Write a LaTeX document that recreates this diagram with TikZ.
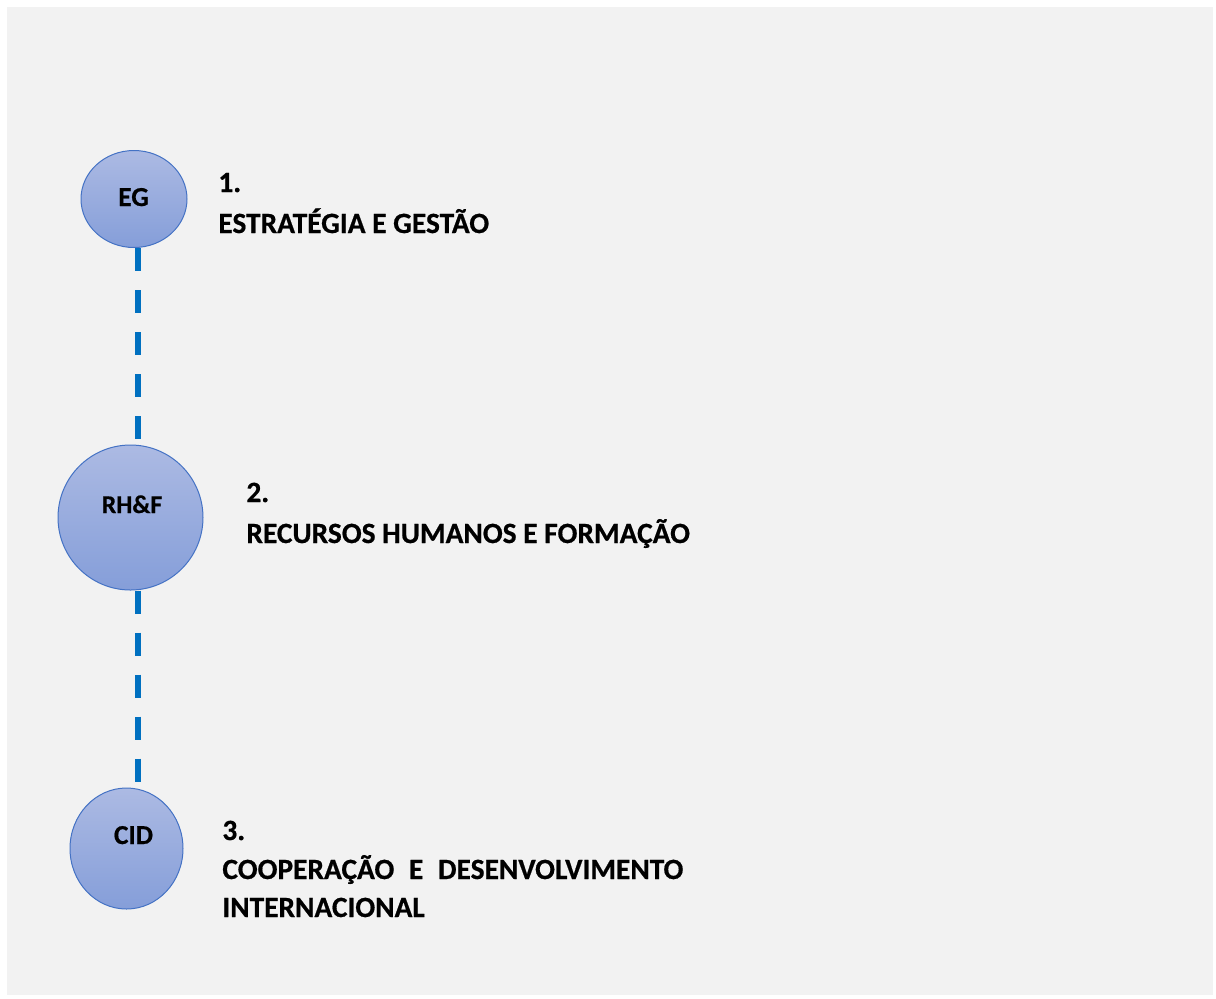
\documentclass[tikz,border=0pt]{standalone}
\usepackage{fontspec}
\setmainfont{Carlito}[BoldFont={Carlito Bold},BoldFeatures={FakeBold=0.6}]
\usetikzlibrary{shapes.geometric}

\definecolor{paper}{RGB}{242,242,242}
\definecolor{ballline}{RGB}{68,114,196}
\definecolor{balltop}{RGB}{172,186,227}
\definecolor{ballbot}{RGB}{133,158,217}
\definecolor{spineblue}{RGB}{0,112,192}

\begin{document}
\begin{tikzpicture}[x=0.5pt,y=-0.5pt]
 	\def \numone{192}
 	\def \titleone{233}
 	\def \numtwo{502}
 	\def \titletwo{543}
 	\def \numthree{840}
 	\def \titlethree{879}
 	\def \titlefour{917}

 	\tikzstyle{ball}=[ellipse,draw=ballline,line width=0.5pt,top color=balltop,bottom color=ballbot,inner sep=0pt]
 	\tikzstyle{step-label}=[anchor=base west,inner sep=0pt,font=\bfseries\fontsize{14.7pt}{17pt}\selectfont]
 	\tikzstyle{dashline}=[draw=spineblue,line width=3pt,dash pattern=on 11.5pt off 9.5pt]

 	% page
 	\useasboundingbox (0,0) rectangle (1216,998);
 	\fill[white] (0,0) rectangle (1216,998);
 	\fill[paper] (7,7) rectangle (1213,995);

 	% steps
 	\node[ball,minimum width=53pt,minimum height=48.5pt] 	(eg)	at (134,199)	{};
 	\node[ball,minimum width=72.5pt,minimum height=72.5pt] 	(rhf)	at (130.5,517.5)	{};
 	\node[ball,minimum width=56.5pt,minimum height=60.5pt] 	(cid)	at (126.5,848.5)	{};

 	\node[anchor=base,font=\bfseries\fontsize{13.7pt}{16pt}\selectfont] 	(eg-text)	at (133.5,206)	{EG};
 	\node[anchor=base,font=\bfseries\fontsize{12.8pt}{15pt}\selectfont] 	(rhf-text)	at (132,513)	{RH\&F};
 	\node[anchor=base,font=\bfseries\fontsize{13.7pt}{16pt}\selectfont] 	(cid-text)	at (133.5,844)	{CID};

 	% labels
 	\node[step-label] 	(num1)	at (218,\numone)		{1.};
 	\node[step-label] 	(title1)	at (218,\titleone)		{ESTRATÉGIA E GESTÃO};

 	\node[step-label] 	(num2)	at (246,\numtwo)		{2.};
 	\node[step-label] 	(title2)	at (246,\titletwo)		{RECURSOS HUMANOS E FORMAÇÃO};

 	\node[step-label] 	(num3)	at (222,\numthree)		{3.};
 	\node[step-label] 	(title3)	at (222,\titlethree)		{\makebox[230.5pt][s]{COOPERAÇÃO E DESENVOLVIMENTO}};
 	\node[step-label] 	(title3b)	at (222,\titlefour)		{INTERNACIONAL};

 	% spine
 	\coordinate (spine) at (138,0);
 	\draw[dashline] (eg.south -| spine) -- (rhf.north -| spine);
 	\draw[dashline] (rhf.south -| spine) -- (cid.north -| spine);

\end{tikzpicture}
\end{document}
